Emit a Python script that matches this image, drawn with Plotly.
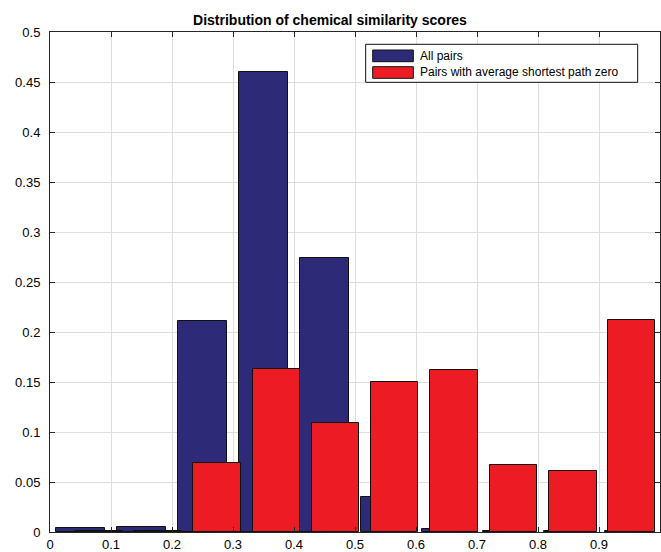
import plotly.graph_objects as go

# Data
all_centers = [0.05, 0.15, 0.25, 0.35, 0.45, 0.55, 0.65, 0.75, 0.85, 0.95]
all_values = [0.0037, 0.0053, 0.211, 0.460, 0.274, 0.035, 0.0035, 0.0012, 0.0006, 0.0010]

zero_centers = [0.080, 0.177, 0.274, 0.371, 0.468, 0.565, 0.662, 0.760, 0.857, 0.953]
zero_values = [0.0012, 0.0006, 0.0695, 0.163, 0.109, 0.150, 0.162, 0.067, 0.0607, 0.2123]

series_names = ["All pairs", "Pairs with average shortest path zero"]
series_colors = ["#2D2A77", "#ED1C24"]

x_ticks = [0, 0.1, 0.2, 0.3, 0.4, 0.5, 0.6, 0.7, 0.8, 0.9, 1]
x_labels = ["0", "0.1", "0.2", "0.3", "0.4", "0.5", "0.6", "0.7", "0.8", "0.9", "1"]
y_ticks = [0, 0.05, 0.1, 0.15, 0.2, 0.25, 0.3, 0.35, 0.4, 0.45, 0.5]
y_labels = ["0", "0.05", "0.1", "0.15", "0.2", "0.25", "0.3", "0.35", "0.4", "0.45", "0.5"]

FONT = "Liberation Sans, Arial, Helvetica, sans-serif"

W, H = 661, 552

fig = go.Figure()
fig.add_trace(go.Bar(
    x=all_centers, y=all_values, width=0.081, name=series_names[0],
    marker=dict(color=series_colors[0], line=dict(color="#111111", width=1)),
    showlegend=False,
))
fig.add_trace(go.Bar(
    x=zero_centers, y=zero_values, width=0.078, name=series_names[1],
    marker=dict(color=series_colors[1], line=dict(color="#111111", width=1)),
    showlegend=False,
))

axis_common = dict(
    showline=True, linecolor="#262626", linewidth=1, mirror="ticks",
    ticks="inside", ticklen=5, tickcolor="#262626",
    showgrid=True, gridcolor="#DEDEDE", gridwidth=1,
    zeroline=False, automargin=False,
    tickfont=dict(family=FONT, size=13, color="#000000"),
)

fig.update_layout(
    width=W, height=H,
    margin=dict(l=50, r=1, t=32, b=20, pad=0),
    paper_bgcolor="white", plot_bgcolor="white",
    barmode="overlay", bargap=0,
    title=dict(
        text="<b>Distribution of chemical similarity scores</b>",
        x=0.459, xref="paper", xanchor="center",
        y=1 - 20 / H, yref="container", yanchor="middle",
        font=dict(family=FONT, size=14, color="#000000"),
        automargin=False,
    ),
    xaxis=dict(range=[0, 1], tickvals=x_ticks, ticktext=x_labels,
               ticklabelstandoff=0, **axis_common),
    yaxis=dict(range=[0, 0.5], tickvals=y_ticks, ticktext=y_labels,
               ticklabelstandoff=6, **axis_common),
)

# Custom MATLAB-style legend
shapes = [
    dict(type="rect", xref="paper", yref="paper", x0=0.5175, x1=0.9634, y0=0.8994, y1=0.9754,
         fillcolor="white", line=dict(color="#111111", width=1), layer="above"),
    dict(type="rect", xref="paper", yref="paper", x0=0.529, x1=0.5956, y0=0.9406, y1=0.964,
         fillcolor=series_colors[0], line=dict(color="#111111", width=1), layer="above"),
    dict(type="rect", xref="paper", yref="paper", x0=0.529, x1=0.5956, y0=0.9074, y1=0.9306,
         fillcolor=series_colors[1], line=dict(color="#111111", width=1), layer="above"),
]
fig.update_layout(shapes=shapes)
for name, yy in zip(series_names, [0.9524, 0.919]):
    fig.add_annotation(
        text=name, xref="paper", yref="paper", x=0.6028, y=yy,
        xanchor="left", yanchor="middle", showarrow=False,
        font=dict(family=FONT, size=12, color="#000000"),
    )

# Remove the default page margin so the figure fills the window exactly
fig.write_html(
    "out.html",
    config={"displayModeBar": False},
    post_script="document.body.style.margin='0';document.body.style.overflow='hidden';",
)
